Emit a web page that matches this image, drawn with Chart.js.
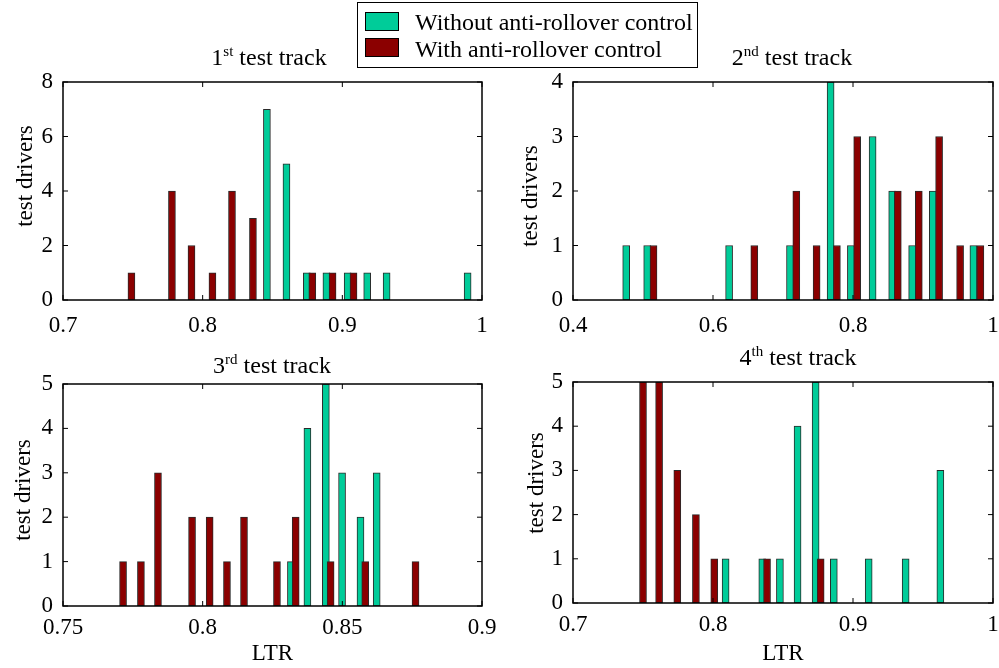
<!DOCTYPE html>
<html><head><meta charset="utf-8">
<script src="https://cdn.jsdelivr.net/npm/chart.js@4.4.1/dist/chart.umd.min.js"></script>
<style>
html,body{margin:0;padding:0;background:#fff;}
body{width:999px;height:668px;position:relative;overflow:hidden;font-family:"Liberation Serif","Times New Roman",serif;color:#000;}
.cv{position:absolute;}
.ttl{position:absolute;font-size:24px;line-height:24px;white-space:nowrap;transform:translateX(-50%);}
.ttl sup{font-size:15px;line-height:0;vertical-align:baseline;position:relative;top:-9px;}
#legend{position:absolute;left:357px;top:2px;width:339px;height:64px;border:1px solid #000;background:#fff;}
.li{position:absolute;left:57px;font-size:24px;line-height:24px;white-space:nowrap;}
.sw{position:absolute;left:7px;width:32px;height:17px;border:1px solid #000;}
</style></head>
<body>
<canvas id="c1" class="cv" width="500" height="334" style="left:0;top:0"></canvas>
<canvas id="c2" class="cv" width="499" height="334" style="left:500px;top:0"></canvas>
<canvas id="c3" class="cv" width="500" height="334" style="left:0;top:334px"></canvas>
<canvas id="c4" class="cv" width="499" height="334" style="left:500px;top:334px"></canvas>

<div class="ttl" style="left:269px;top:45px">1<sup>st</sup> test track</div>
<div class="ttl" style="left:792px;top:45px">2<sup>nd</sup> test track</div>
<div class="ttl" style="left:272px;top:353px">3<sup>rd</sup> test track</div>
<div class="ttl" style="left:798px;top:345px">4<sup>th</sup> test track</div>

<div id="legend">
  <div class="sw" style="top:9px;background:#00CC99"></div>
  <div class="li" style="top:7px">Without anti-rollover control</div>
  <div class="sw" style="top:35px;background:#8B0000"></div>
  <div class="li" style="top:34px">With anti-rollover control</div>
</div>

<script>
// ---------- data ----------
const seriesNames = ["Without anti-rollover control", "With anti-rollover control"];

// 1st test track
const t1WithoutX = [0.846, 0.860, 0.8746, 0.8886, 0.9038, 0.9178, 0.9317, 0.9897];
const t1WithoutN = [7, 5, 1, 1, 1, 1, 1, 1];
const t1WithX    = [0.749, 0.778, 0.792, 0.807, 0.821, 0.836, 0.8785, 0.893, 0.908];
const t1WithN    = [1, 4, 2, 1, 4, 3, 1, 1, 1];
const t1XTicks = [0.7, 0.8, 0.9, 1];
const t1YTicks = [0, 2, 4, 6, 8];

// 2nd test track
const t2WithoutX = [0.476, 0.506, 0.623, 0.710, 0.768, 0.797, 0.828, 0.856, 0.8845, 0.914, 0.972];
const t2WithoutN = [1, 1, 1, 1, 4, 1, 3, 2, 1, 2, 1];
const t2WithX    = [0.515, 0.659, 0.719, 0.748, 0.777, 0.806, 0.864, 0.894, 0.923, 0.953, 0.982];
const t2WithN    = [1, 1, 2, 1, 1, 3, 2, 2, 3, 1, 1];
const t2XTicks = [0.4, 0.6, 0.8, 1];
const t2YTicks = [0, 1, 2, 3, 4];

// 3rd test track
const t3WithoutX = [0.8316, 0.8375, 0.8441, 0.8499, 0.8565, 0.8623];
const t3WithoutN = [1, 4, 5, 3, 2, 3];
const t3WithX    = [0.7715, 0.7779, 0.784, 0.7962, 0.8025, 0.8087, 0.8148, 0.8266, 0.8333, 0.8458, 0.8582, 0.8762];
const t3WithN    = [1, 1, 3, 2, 2, 1, 2, 1, 2, 1, 1, 1];
const t3XTicks = [0.75, 0.8, 0.85, 0.9];
const t3YTicks = [0, 1, 2, 3, 4, 5];

// 4th test track
const t4WithoutX = [0.809, 0.8352, 0.8478, 0.8604, 0.8733, 0.8863, 0.9112, 0.9376, 0.9624];
const t4WithoutN = [1, 1, 1, 4, 5, 1, 1, 1, 3];
const t4WithX    = [0.750, 0.7615, 0.7745, 0.7878, 0.8009, 0.8386, 0.8769];
const t4WithN    = [5, 5, 3, 2, 1, 1, 1];
const t4XTicks = [0.7, 0.8, 0.9, 1];
const t4YTicks = [0, 1, 2, 3, 4, 5];

const yTitle = "test drivers";
const xTitle = "LTR";

// ---------- styling ----------
const TEAL = "#00CC99", RED = "#8B0000", EDGE = "#2a2a2a";
const FONT = '"Liberation Serif", "Times New Roman", serif';
Chart.defaults.font.family = FONT;
Chart.defaults.font.size = 23;
Chart.defaults.color = "#000";

const framePlugin = {
  id: "frame",
  afterDatasetsDraw(chart, args, opts) {
    const { ctx, chartArea: a, scales: { x, y } } = chart;
    ctx.save();
    ctx.strokeStyle = "#000";
    ctx.lineWidth = 1.5;
    ctx.strokeRect(a.left, a.top, a.right - a.left, a.bottom - a.top);
    ctx.lineWidth = 1;
    const L = 5;
    ctx.beginPath();
    x.ticks.forEach(t => {
      const p = x.getPixelForValue(t.value);
      ctx.moveTo(p, a.bottom); ctx.lineTo(p, a.bottom - L);
      ctx.moveTo(p, a.top); ctx.lineTo(p, a.top + L);
    });
    y.ticks.forEach(t => {
      const p = y.getPixelForValue(t.value);
      ctx.moveTo(a.left, p); ctx.lineTo(a.left + L, p);
      ctx.moveTo(a.right, p); ctx.lineTo(a.right - L, p);
    });
    ctx.stroke();
    if (opts && opts.text) {
      ctx.translate(opts.x, opts.y);
      ctx.rotate(-Math.PI / 2);
      ctx.font = "23px " + FONT;
      ctx.fillStyle = "#000";
      ctx.textAlign = "center";
      ctx.textBaseline = "alphabetic";
      ctx.fillText(opts.text, 0, 0);
    }
    ctx.restore();
  }
};

function pts(xs, ns) { return xs.map((v, i) => ({ x: v, y: ns[i] })); }

function makePanel(id, p) {
  const ds = (label, xs, ns, color, order) => ({
    label, data: pts(xs, ns), backgroundColor: color, borderColor: EDGE,
    borderWidth: 1, borderSkipped: false, barThickness: 7, grouped: false, order
  });
  new Chart(document.getElementById(id), {
    type: "bar",
    data: {
      datasets: [
        ds(seriesNames[0], p.wx, p.wn, TEAL, 1),
        ds(seriesNames[1], p.rx, p.rn, RED, 0)
      ]
    },
    options: {
      responsive: false, animation: false, devicePixelRatio: 1,
      layout: { padding: p.pad },
      plugins: {
        legend: { display: false }, tooltip: { enabled: false },
        frame: { text: yTitle, x: p.yt[0], y: p.yt[1] }
      },
      scales: {
        x: {
          type: "linear", min: p.xt[0], max: p.xt[p.xt.length - 1], offset: false,
          grid: { display: false, drawTicks: false, offset: false }, border: { display: false },
          afterBuildTicks: s => { s.ticks = p.xt.map(v => ({ value: v })); },
          afterFit: s => { s.height = p.xh; s.paddingLeft = 0; s.paddingRight = 0; },
          ticks: { padding: p.xpad, maxRotation: 0, autoSkip: false,
                   callback: v => String(Math.round(v * 1000) / 1000) },
          title: { display: !!p.xlab, text: xTitle, padding: { top: 0, bottom: 0 } }
        },
        y: {
          min: 0, max: p.yt2[p.yt2.length - 1],
          grid: { display: false, drawTicks: false }, border: { display: false },
          afterBuildTicks: s => { s.ticks = p.yt2.map(v => ({ value: v })); },
          afterFit: s => { s.width = p.yw; s.paddingTop = 0; s.paddingBottom = 0; },
          ticks: { padding: 10, callback: v => String(v) }
        }
      }
    },
    plugins: [framePlugin]
  });
}

makePanel("c1", { wx: t1WithoutX, wn: t1WithoutN, rx: t1WithX, rn: t1WithN, xt: t1XTicks, yt2: t1YTicks,
  pad: { left: 0, top: 82, right: 18, bottom: 0 }, yw: 63, xh: 34, xpad: 12, yt: [32, 176] });
makePanel("c2", { wx: t2WithoutX, wn: t2WithoutN, rx: t2WithX, rn: t2WithN, xt: t2XTicks, yt2: t2YTicks,
  pad: { left: 0, top: 82, right: 6, bottom: 0 }, yw: 73, xh: 34, xpad: 12, yt: [37, 196] });
makePanel("c3", { wx: t3WithoutX, wn: t3WithoutN, rx: t3WithX, rn: t3WithN, xt: t3XTicks, yt2: t3YTicks,
  pad: { left: 0, top: 50, right: 18, bottom: 0 }, yw: 63, xh: 62, xpad: 8, xlab: true, yt: [30, 156] });
makePanel("c4", { wx: t4WithoutX, wn: t4WithoutN, rx: t4WithX, rn: t4WithN, xt: t4XTicks, yt2: t4YTicks,
  pad: { left: 0, top: 48, right: 6, bottom: 0 }, yw: 73, xh: 65, xpad: 8, xlab: true, yt: [43, 149] });
</script>
</body></html>
